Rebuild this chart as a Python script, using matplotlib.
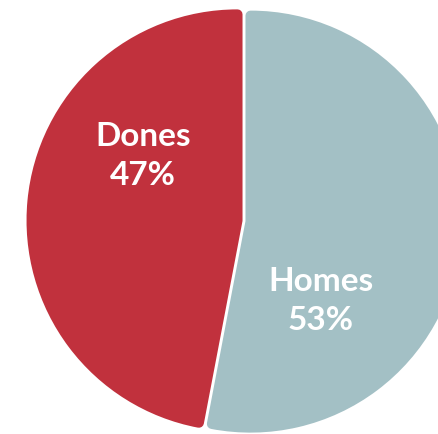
import matplotlib
matplotlib.use("Agg")
import matplotlib.pyplot as plt

# dades del gràfic
labels = ["Homes", "Dones"]
values = [53, 47]
colors = ["#A3C0C5", "#C1313D"]

# posicions dels textos (en píxels de la imatge)
text_pos = {"Homes": (321, 301), "Dones": (143, 156)}

W, H = 439, 434
fig = plt.figure(figsize=(W / 100, H / 100), dpi=100)
ax = fig.add_axes([0, 0, 1, 1])

d = 5      # radi de l'arrodoniment (px)
gap = 3    # separació entre porcions (px)
R = 211    # radi exterior (px)
cx, cy = 244, H - 221
px2pt = 72 / 100

wedges, _ = ax.pie(values, colors=colors, startangle=90, counterclock=False,
                   radius=R - d, center=(cx, cy),
                   explode=[d + gap / 2] * len(values),
                   wedgeprops=dict(linewidth=2 * d * px2pt, joinstyle="round"))
for w, c in zip(wedges, colors):
    w.set_edgecolor(c)

for lab, v in zip(labels, values):
    x, y = text_pos[lab]
    ax.text(x, H - y, "%s\n%d%%" % (lab, v), ha="center", va="center",
            color="white", fontsize=24, fontweight="bold", family="Lato",
            linespacing=1.4)

ax.set_xlim(0, W)
ax.set_ylim(0, H)
ax.set_aspect("auto")
ax.axis("off")

fig.savefig("out.png", dpi=100)
